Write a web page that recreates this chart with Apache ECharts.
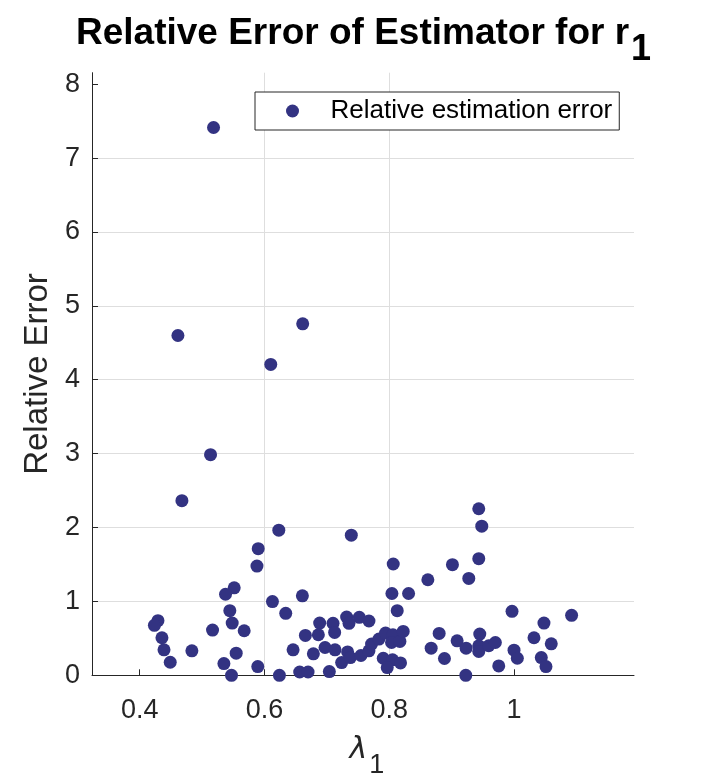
<!DOCTYPE html>
<html>
<head>
<meta charset="utf-8">
<script src="https://cdn.jsdelivr.net/npm/echarts@6/dist/echarts.min.js"></script>
<style>
  html, body { margin: 0; padding: 0; background: #fff; }
  #chart { width: 703px; height: 781px; }
</style>
</head>
<body>
<div id="chart"></div>
<script>
// 横轴 lambda_1 的取值
var lambdaValues = [
    0.4677, 0.623, 0.590, 0.588, 0.5515, 0.5376, 0.6128, 0.5445, 0.4293, 0.4236,
    0.5483, 0.5168, 0.5675, 0.4357, 0.439, 0.4837, 0.449, 0.5547, 0.535, 0.5472,
    0.5893, 0.624, 0.5184, 0.4613, 0.6613, 0.6101, 0.5136,
    0.7392, 0.8064, 0.9013, 0.8619, 0.8043, 0.831, 0.6608, 0.6341, 0.8128,
    0.7317, 0.752, 0.7675, 0.7355, 0.6885, 0.7099, 0.6864, 0.7125, 0.6656, 0.6459,
    0.6784, 0.6971, 0.7131, 0.7333, 0.7237, 0.7376, 0.7547, 0.7675, 0.7717, 0.7835,
    0.7941, 0.8059, 0.8037, 0.8171, 0.8224, 0.7904, 0.8053, 0.8181, 0.7968, 0.6565,
    0.6699, 0.704, 0.88, 0.8672, 0.8885, 0.9088,
    0.9435, 0.9483, 0.9435, 0.9275, 0.9968, 1.0923, 1.048, 1.032, 1.0597, 1.0437,
    1.0512, 1.0, 1.0053, 0.9755, 0.9232, 0.9451, 0.9435, 0.9435, 0.9595, 0.9701,
    0.9227
];
// 纵轴 相对误差
var errorValues = [
    2.363, 1.964, 1.714, 1.478, 1.184, 1.097, 0.998, 0.875, 0.739, 0.676,
    0.707, 0.612, 0.603, 0.508, 0.345, 0.331, 0.177, 0.299, 0.159, 0.0,
    0.118, 0.0, 7.414, 4.599, 4.757, 4.207, 2.986,
    1.896, 1.506, 1.497, 1.293, 1.107, 1.107, 1.075, 0.839, 0.875,
    0.789, 0.785, 0.735, 0.703, 0.707, 0.703, 0.549, 0.58, 0.54, 0.345,
    0.29, 0.376, 0.345, 0.317, 0.172, 0.24, 0.268, 0.331, 0.422, 0.49,
    0.571, 0.549, 0.444, 0.458, 0.594, 0.231, 0.209, 0.168, 0.104, 0.045,
    0.045, 0.05, 0.567, 0.367, 0.227, 0.467,
    2.254, 2.018, 1.578, 1.311, 0.866, 0.812, 0.707, 0.508, 0.426, 0.24,
    0.118, 0.34, 0.231, 0.127, 0.367, 0.558, 0.40, 0.322, 0.40, 0.444,
    0.0
];
var xTicks = [0.4, 0.6, 0.8, 1];
var yTicks = [0, 1, 2, 3, 4, 5, 6, 7, 8];

var chart = echarts.init(document.getElementById('chart'));

var points = lambdaValues.map(function (v, i) { return [v, errorValues[i]]; });
// 坐标范围: 横轴两端各留 0.1, 纵轴上限为最大值的 1.1 倍
var xMin = Math.min.apply(null, lambdaValues) - 0.1;
var xMax = Math.max.apply(null, lambdaValues) + 0.1;
var yMax = Math.max.apply(null, errorValues) * 1.1;

var axisColor = '#262626';
var gridColor = '#dedede';
var font = 'Liberation Sans';

var option = {
    backgroundColor: '#fff',
    animation: false,
    title: {
        text: '{m|Relative Error of Estimator for r}{s|1}',
        left: 71,
        top: 10,
        textStyle: {
            rich: {
                m: { fontSize: 37, fontWeight: 'bold', fontFamily: font, color: '#000', verticalAlign: 'top', lineHeight: 42 },
                s: { fontSize: 36, fontWeight: 'bold', fontFamily: font, color: '#000', verticalAlign: 'top', lineHeight: 42, padding: [17, 0, 0, 2] }
            }
        }
    },
    legend: {
        left: 255,
        top: 92,
        padding: [6, 7, 6, 31],
        itemWidth: 50,
        itemHeight: 13,
        itemGap: 0,
        borderColor: '#262626',
        borderWidth: 1,
        backgroundColor: '#fff',
        icon: 'circle',
        textStyle: { fontSize: 26, fontFamily: font, color: '#000', padding: [0, 0, 0, 8] },
        data: ['Relative estimation error']
    },
    grid: {
        left: 92,
        right: 69,
        top: 72.7,
        bottom: 105.7,
        containLabel: false,
        outerBoundsMode: 'none'
    },
    xAxis: {
        type: 'value',
        min: xMin,
        max: xMax,
        name: '{l|λ}{s|1}',
        nameLocation: 'middle',
        nameGap: 60,
        nameTextStyle: {
            padding: [0, 0, 0, 8],
            rich: {
                l: { fontSize: 30, fontStyle: 'italic', fontFamily: 'DejaVu Sans', color: axisColor, verticalAlign: 'top', lineHeight: 30 },
                s: { fontSize: 27, fontFamily: font, color: axisColor, verticalAlign: 'top', lineHeight: 27, padding: [17, 0, 0, 2] }
            }
        },
        axisLine: { show: true, lineStyle: { color: axisColor, width: 1 } },
        axisTick: { show: true, inside: true, length: 6, customValues: xTicks, lineStyle: { color: axisColor } },
        axisLabel: { customValues: xTicks, fontSize: 27, fontFamily: font, color: axisColor, margin: 22,
            formatter: function (v) { return String(Math.round(v * 10) / 10); } },
        splitLine: { show: true, showMinLine: false, showMaxLine: false, lineStyle: { color: gridColor, width: 1 } }
    },
    yAxis: {
        type: 'value',
        min: 0,
        max: yMax,
        name: 'Relative Error',
        nameLocation: 'middle',
        nameGap: 32,
        nameTextStyle: { fontSize: 33, fontFamily: font, color: axisColor },
        axisLine: { show: true, lineStyle: { color: axisColor, width: 1 } },
        axisTick: { show: true, inside: true, length: 6, customValues: yTicks, lineStyle: { color: axisColor } },
        axisLabel: { customValues: yTicks, fontSize: 27, fontFamily: font, color: axisColor, margin: 12 },
        splitLine: { show: true, showMinLine: false, showMaxLine: false, lineStyle: { color: gridColor, width: 1 } }
    },
    series: [{
        name: 'Relative estimation error',
        type: 'scatter',
        symbol: 'circle',
        symbolSize: 13,
        itemStyle: { color: '#333382', opacity: 1 },
        data: points
    }]
};
chart.setOption(option);
</script>
</body>
</html>
